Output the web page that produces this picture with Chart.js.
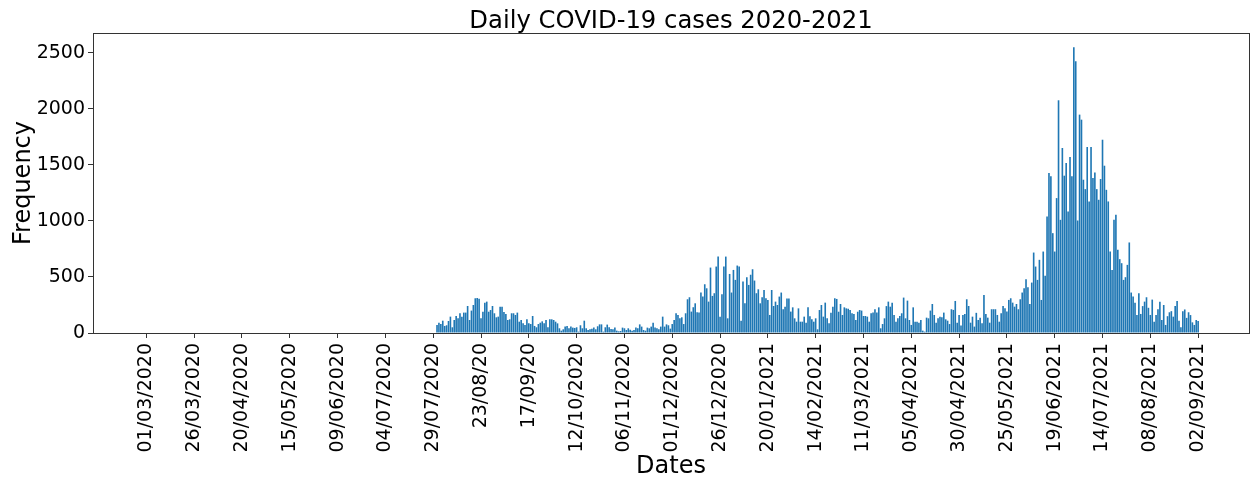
<!DOCTYPE html>
<html>
<head>
<meta charset="utf-8">
<script src="https://cdn.jsdelivr.net/npm/chart.js@4.4.1/dist/chart.umd.min.js"></script>
<style>
  html, body { margin: 0; padding: 0; background: #fff; }
  #wrap { width: 1250px; height: 479px; }
</style>
</head>
<body>
<div id="wrap"><canvas id="chart" width="1250" height="479"></canvas></div>
<script>
// Daily reported cases, one array per calendar month (first value = first listed day).
const jul2020 = [72]; // starts 31/07/2020
const aug2020 = [92, 80, 110, 63, 69, 107, 146, 51, 116, 152, 131, 176, 146, 182, 182, 241, 116, 200, 250, 310, 312, 305, 131, 190, 271, 280, 190, 205, 241, 176, 140];
const sep2020 = [146, 235, 235, 187, 170, 116, 122, 176, 176, 161, 182, 101, 116, 86, 72, 122, 86, 80, 152, 63, 51, 80, 92, 104, 86, 116, 51, 122, 122, 116];
const oct2020 = [101, 86, 42, 21, 33, 57, 63, 42, 57, 48, 45, 51, 12, 69, 42, 110, 42, 27, 33, 39, 48, 33, 60, 77, 77, 12, 51, 75, 51, 36, 33];
const nov2020 = [48, 21, 15, 18, 48, 42, 27, 42, 30, 21, 27, 48, 42, 77, 57, 27, 21, 48, 42, 57, 92, 50, 42, 33, 57, 146, 57, 77, 69, 39];
const dec2020 = [80, 116, 176, 161, 131, 140, 80, 176, 301, 319, 191, 230, 265, 185, 182, 361, 325, 435, 399, 280, 584, 331, 355, 593, 682, 146, 346, 593, 682, 131, 527];
const jan2021 = [361, 563, 474, 602, 593, 110, 459, 265, 498, 429, 520, 569, 468, 355, 390, 265, 319, 384, 310, 295, 161, 384, 241, 280, 250, 325, 361, 212, 235, 307, 307];
const feb2021 = [191, 229, 131, 101, 220, 101, 101, 146, 92, 229, 150, 122, 101, 131, 33, 205, 250, 146, 271, 131, 86, 180, 235, 310, 304, 190, 259, 161];
const mar2021 = [229, 220, 217, 205, 176, 170, 116, 190, 205, 200, 152, 152, 146, 101, 176, 182, 211, 182, 229, 42, 80, 131, 240, 280, 235, 271, 161, 101, 131, 152, 176];
const apr2021 = [316, 131, 289, 116, 72, 229, 101, 101, 92, 116, 21, 12, 137, 131, 200, 259, 161, 92, 131, 146, 140, 182, 122, 110, 80, 212, 206, 286, 92, 161];
const may2021 = [66, 161, 170, 301, 241, 92, 146, 57, 180, 116, 137, 86, 340, 170, 137, 92, 212, 212, 212, 161, 101, 176, 241, 220, 191, 295, 310, 271, 235, 259, 212];
const jun2021 = [301, 361, 399, 480, 408, 259, 450, 718, 593, 474, 653, 295, 727, 510, 1040, 1427, 1398, 891, 727, 1204, 2077, 1010, 1651, 1404, 1517, 1085, 1570, 1398, 2550, 2426];
const jul2021 = [1004, 1949, 1904, 1368, 1284, 1660, 1174, 1660, 1383, 1433, 1284, 1189, 1374, 1725, 1493, 1278, 1174, 727, 563, 1010, 1055, 742, 659, 623, 474, 498, 608, 808, 361, 325, 271];
const aug2021 = [161, 355, 170, 240, 280, 319, 225, 161, 298, 101, 160, 212, 280, 116, 250, 72, 150, 185, 195, 146, 242, 285, 110, 51, 195, 210, 135, 185, 160, 95, 72];
const sep2021 = [116, 107];

// [year, month, first day, values]
const monthlySeries = [
  [2020, 7, 31, jul2020], [2020, 8, 1, aug2020], [2020, 9, 1, sep2020],
  [2020, 10, 1, oct2020], [2020, 11, 1, nov2020], [2020, 12, 1, dec2020],
  [2021, 1, 1, jan2021], [2021, 2, 1, feb2021], [2021, 3, 1, mar2021],
  [2021, 4, 1, apr2021], [2021, 5, 1, may2021], [2021, 6, 1, jun2021],
  [2021, 7, 1, jul2021], [2021, 8, 1, aug2021], [2021, 9, 1, sep2021]
];

// Date tick labels, one every 25 days starting 01/03/2020
const tickLabels = ['01/03/2020', '26/03/2020', '20/04/2020', '15/05/2020', '09/06/2020', '04/07/2020',
  '29/07/2020', '23/08/20', '17/09/20', '12/10/2020', '06/11/2020', '01/12/2020', '26/12/2020',
  '20/01/2021', '14/02/2021', '11/03/2021', '05/04/2021', '30/04/2021', '25/05/2021', '19/06/2021',
  '14/07/2021', '08/08/2021', '02/09/2021'];
const tickStepDays = 25;
const yTicks = [0, 500, 1000, 1500, 2000, 2500];
const chartTitle = 'Daily COVID-19 cases 2020-2021';

const ORIGIN = Date.UTC(2020, 2, 1);
const DAY_MS = 86400000;
const dayIndex = (y, m, d) => Math.round((Date.UTC(y, m - 1, d) - ORIGIN) / DAY_MS);

const points = [];
monthlySeries.forEach(([y, m, d, vals]) => {
  const start = dayIndex(y, m, d);
  vals.forEach((v, i) => points.push({ x: start + i, y: v }));
});
const peak = Math.max(...points.map(p => p.y));

const FONT = 'DejaVu Sans';

// Full box around the plotting area, plus the title centred over it
const frame = {
  id: 'frame',
  afterDatasetsDraw(chart) {
    const { ctx, chartArea: a } = chart;
    ctx.save();
    ctx.strokeStyle = '#333';
    ctx.lineWidth = 1;
    ctx.strokeRect(a.left + 0.5, a.top + 0.5, a.right - a.left, a.bottom - a.top);
    ctx.fillStyle = '#000';
    ctx.font = `24.3px "${FONT}"`;
    ctx.textAlign = 'center';
    ctx.textBaseline = 'alphabetic';
    ctx.fillText(chartTitle, (a.left + a.right) / 2, 27.5);
    ctx.restore();
  }
};

new Chart(document.getElementById('chart'), {
  type: 'bar',
  data: {
    datasets: [{
      data: points,
      backgroundColor: '#1f77b4',
      borderWidth: 0,
      barPercentage: 0.85,
      categoryPercentage: 1
    }]
  },
  options: {
    responsive: false,
    animation: false,
    devicePixelRatio: 1,
    layout: { padding: { left: 0, right: 1, top: 33, bottom: 0 } },
    plugins: {
      legend: { display: false },
      tooltip: { enabled: false },
      title: { display: false }
    },
    scales: {
      x: {
        type: 'linear',
        min: -27.9,
        max: 576.6,
        offset: false,
        afterBuildTicks: s => { s.ticks = tickLabels.map((_, i) => ({ value: i * tickStepDays })); },
        afterFit: s => { s.height = 146; },
        ticks: {
          autoSkip: false,
          minRotation: 90,
          maxRotation: 90,
          padding: 5,
          color: '#000',
          font: { family: FONT, size: 19 },
          callback: (v, i) => tickLabels[i]
        },
        grid: { display: true, offset: false, drawOnChartArea: false, drawTicks: true, tickLength: 5, color: '#333' },
        border: { display: false },
        title: {
          display: true,
          text: 'Dates',
          color: '#000',
          font: { family: FONT, size: 24, lineHeight: 1.05 },
          padding: { top: 0, bottom: 0 }
        }
      },
      y: {
        min: 0,
        max: peak * 1.05,
        afterBuildTicks: s => { s.ticks = yTicks.map(v => ({ value: v })); },
        afterFit: s => { s.width = 93; },
        ticks: {
          padding: 3,
          color: '#000',
          font: { family: FONT, size: 19 },
          callback: v => String(v)
        },
        grid: { display: true, drawOnChartArea: false, drawTicks: true, tickLength: 5, color: '#333' },
        border: { display: false },
        title: {
          display: true,
          text: 'Frequency',
          color: '#000',
          font: { family: FONT, size: 24 },
          padding: { top: 9, bottom: 0 }
        }
      }
    }
  },
  plugins: [frame]
});
</script>
</body>
</html>
